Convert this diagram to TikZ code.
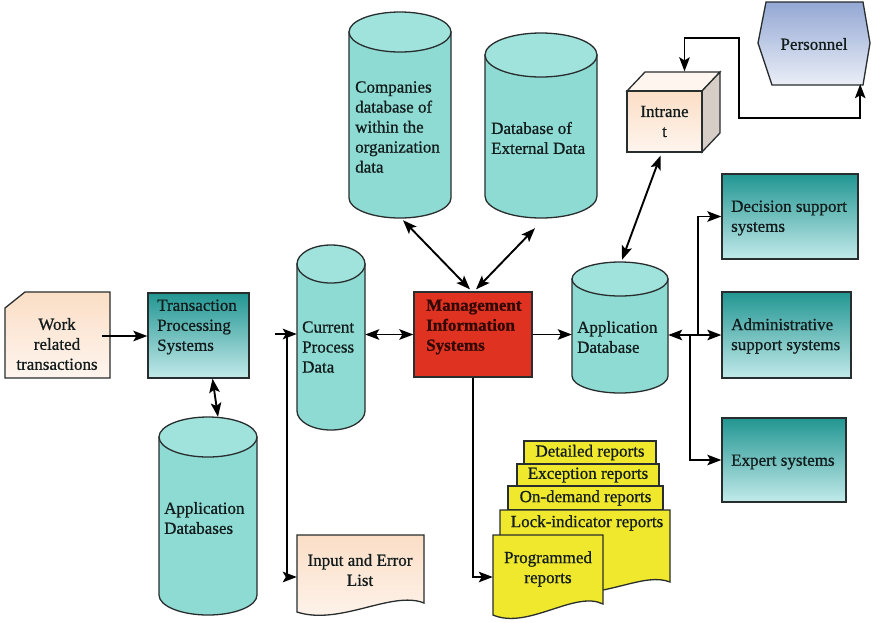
\documentclass[tikz,border=0pt]{standalone}
\usepackage{fontspec}
\setmainfont{Liberation Serif}[FakeBold=0.8]
\usetikzlibrary{arrows.meta,calc}
\definecolor{cylc}{RGB}{142,219,211}
\definecolor{cyltopc}{RGB}{160,226,220}
\definecolor{tealtop}{RGB}{34,150,146}
\definecolor{tealbot}{RGB}{194,234,234}
\definecolor{peachtop}{RGB}{251,222,198}
\definecolor{peachbot}{RGB}{254,245,238}
\definecolor{cubeside}{RGB}{214,206,198}
\definecolor{misred}{RGB}{224,50,32}
\definecolor{repy}{RGB}{240,232,44}
\definecolor{perstop}{RGB}{148,168,212}
\definecolor{persbot}{RGB}{234,238,247}
\definecolor{edge}{RGB}{40,45,45}
\definecolor{txt}{RGB}{18,28,28}
\definecolor{mistxt}{RGB}{50,8,4}

\tikzset{
  outl/.style={draw=edge, line width=1.3pt},
  tealbox/.style={outl, rectangle, top color=tealtop, bottom color=tealbot, inner sep=0pt},
  cylbody/.style={outl, fill=cylc},
  cyltop/.style={outl, fill=cyltopc},
  holder/.style={rectangle, draw=none, inner sep=0pt},
  lbl/.style={inner sep=0pt, align=left, text=txt, font=\fontsize{17}{20}\selectfont},
  lblc/.style={lbl, align=center},
  conn/.style={draw=black, line width=1.9pt},
  strip/.style={outl, fill=repy, rectangle, inner sep=0pt, text=txt, font=\fontsize{17}{20}\selectfont},
}

\newcommand\dbcyl[6]{%
  \node[holder, minimum width={(#4-#2)*1pt}, minimum height={(#5-#3)*1pt}] (#1) at ({(#2+#4)/2},{(#3+#5)/2}) {};
  \path[cylbody] (#2,{#3+#6}) -- (#2,{#5-#6}) arc[start angle=180,end angle=360,x radius={(#4-#2)/2*1pt},y radius=#6pt] -- (#4,{#3+#6}) -- cycle;
  \path[cyltop] ({(#2+#4)/2},{#3+#6}) ellipse[x radius={(#4-#2)/2*1pt},y radius=#6pt];
}

\begin{document}
\begin{tikzpicture}[x=1pt,y=-1pt,>={Stealth[length=14pt,width=10.5pt,inset=3pt]}]
\fill[white] (0,0) rectangle (874,622);
\useasboundingbox (0,0) rectangle (874,622);

% ---- Work related transactions
\path[outl, top color=peachtop, bottom color=peachbot] (5,308) -- (25,292) -- (110,292) -- (110,378) -- (5,378) -- cycle;
\node[holder, minimum width=105pt, minimum height=86pt] (work) at (57.5,335) {};
\node[lblc] (work-t) at (57,344) {Work\\related\\transactions};

% ---- TPS
\node[tealbox, minimum width=101pt, minimum height=85pt] (tps) at (198.5,335.5) {};
\node[lbl, anchor=west] (tps-t) at (157,327) {Transaction\\Processing\\Systems};

% ---- cylinders
\dbcyl{cpd}{297}{245}{365}{430}{19}
\node[lbl, anchor=west] (cpd-t) at (302,347) {Current\\Process\\Data};

\dbcyl{comp}{349}{12}{451}{218}{20}
\node[lbl, anchor=west] (comp-t) at (355,127) {Companies\\database of\\within the\\organization\\data};

\dbcyl{ext}{485}{33}{597}{218}{22}
\node[lbl, anchor=west] (ext-t) at (491,138) {Database of\\External Data};

\dbcyl{appdb}{572}{262}{668}{393}{17}
\node[lbl, anchor=west] (appdb-t) at (577,337) {Application\\Database};

\dbcyl{appdbs}{159}{417}{257}{615}{20}
\node[lbl, anchor=west] (appdbs-t) at (164,518) {Application\\Databases};

% ---- MIS
\node[outl, rectangle, fill=misred, minimum width=118pt, minimum height=85pt] (mis) at (473,334.5) {};
\node[lbl, text=mistxt, font=\fontsize{17}{20}\selectfont\bfseries, anchor=west] (mis-t) at (426,327) {Management\\Information\\Systems};

% ---- right boxes
\node[tealbox, minimum width=136pt, minimum height=85pt] (dss) at (790,216.5) {};
\node[lbl, anchor=west] (dss-t) at (731,218) {Decision support\\systems};
\node[tealbox, minimum width=129pt, minimum height=86pt] (adm) at (786.5,335) {};
\node[lbl, anchor=west] (adm-t) at (731,336) {Administrative\\support systems};
\node[tealbox, minimum width=124pt, minimum height=84pt] (exp) at (784,460) {};
\node[lbl, anchor=west] (exp-t) at (731,462) {Expert systems};

% ---- Intranet cube
\path[outl, fill=peachbot] (627,91) -- (645,72) -- (720,72) -- (702,91) -- cycle;
\path[outl, fill=cubeside] (702,91) -- (720,72) -- (720,133) -- (702,152) -- cycle;
\node[outl, rectangle, top color=peachtop, bottom color=peachbot, minimum width=75pt, minimum height=61pt, inner sep=0pt, lblc] (intra) at (664.5,121.5) {Intrane\\t};

% ---- Personnel
\path[outl, top color=perstop, bottom color=persbot] (766,2) -- (863,2) -- (870,43) -- (863,85) -- (772,85) -- (758,43) -- cycle;
\node[holder, minimum width=112pt, minimum height=83pt, lblc] (pers) at (814,44) {Personnel};

% ---- Input and Error List
\path[outl, top color=peachtop, bottom color=peachbot] (297,535) -- (424,535) -- (424,603) .. controls (392,590) and (340,626) .. (297,612) -- cycle;
\node[holder, minimum width=127pt, minimum height=80pt] (inp) at (360.5,574) {};
\node[lblc] (inp-t) at (360,570) {Input and Error\\List};

% ---- reports stack
\node[strip, minimum width=132pt, minimum height=23pt] (det) at (590,452.5) {Detailed reports};
\node[strip, minimum width=142pt, minimum height=22pt] (exc) at (588,475) {Exception reports};
\node[strip, minimum width=155pt, minimum height=24pt] (ond) at (585.5,498) {On-demand reports};
\path[outl, fill=repy] (500,510) -- (670,510) -- (670,582) .. controls (645,572) and (610,596) .. (560,594) -- (500,594) -- cycle;
\node[lblc] (lock) at (587,523) {Lock-indicator reports};
\path[outl, fill=repy] (493,535) -- (603,535) -- (603,604) .. controls (575,590) and (528,630) .. (493,615) -- cycle;
\node[holder, minimum width=110pt, minimum height=80pt] (prog) at (548,577) {};
\node[lblc] (prog-t) at (548,569) {Programmed\\reports};

% ---- connectors
\coordinate (w1) at (102,336);
\draw[conn,->] (w1) -- (w1 -| tps.west);
\draw[conn,<->] ([xshift=14pt]tps.south) -- ([xshift=10pt]appdbs.north);
\coordinate (j1) at (275,334);
\coordinate (j2) at (287,334);
\draw[conn,->] (j1) -- (j1 -| cpd.west);
\draw[conn,->] (j2) |- ([yshift=-3pt]inp.west);
\draw[conn,<->] (mis.west) -- (mis.west -| cpd.east);
\draw[conn,->] (mis.east) -- (mis.east -| appdb.west);
\draw[conn,<->] ($(comp.south)+(3,2)$) -- ($(mis.north)+(-3,-2)$);
\draw[conn,<->] ($(ext.south)+(-6,10)$) -- ($(mis.north)+(3,-2)$);
\draw[conn,->] (mis.south) |- (prog.west);
\draw[conn,<->] ($(appdb.north)+(2,-2)$) -- ($(intra.south)+(-4,3)$);
\draw[conn,<->] ($(intra.north)+(20,-19)$) -- ++(0,-33) -| (739,118) -| ($(pers.south east)+(-10,-1.5)$);
\draw[conn,<->] (adm.west -| appdb.east) -- (adm.west);
\coordinate (j3) at (698,335);
\coordinate (j4) at (690,335);
\draw[conn,->] (j3) |- (dss.west);
\draw[conn,->] (j4) |- (exp.west);
\end{tikzpicture}
\end{document}
